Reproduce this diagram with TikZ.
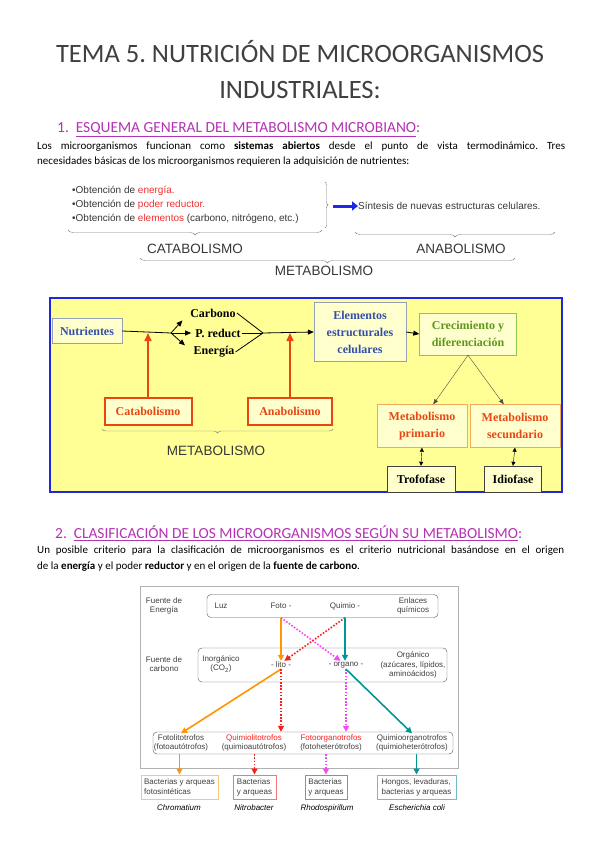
\documentclass[tikz,border=0pt]{standalone}
\usepackage{fontspec}
\setmainfont{Carlito}
\newfontfamily\arialfont{Liberation Sans}
\newfontfamily\romanfont{Liberation Serif}
\usetikzlibrary{arrows.meta, positioning, decorations.pathreplacing, calc}
\frenchspacing

\newcommand{\setsize}[2]{\fontsize{#1}{#2}\selectfont}

\definecolor{heading}{RGB}{180,50,180}
\definecolor{listgray}{RGB}{55,55,55}
\definecolor{listred}{RGB}{240,50,50}
\definecolor{synblue}{RGB}{30,40,230}
\definecolor{panel}{RGB}{255,255,150}
\definecolor{panelblue}{RGB}{30,40,220}
\definecolor{boxfill}{RGB}{255,255,205}
\definecolor{boxgray}{RGB}{150,160,180}
\definecolor{nutblue}{RGB}{50,80,170}
\definecolor{catred}{RGB}{232,70,20}
\definecolor{growgreen}{RGB}{95,150,30}
\definecolor{growframe}{RGB}{140,200,80}
\definecolor{metframe}{RGB}{240,170,90}
\definecolor{pathorange}{RGB}{255,150,0}
\definecolor{pathteal}{RGB}{0,150,150}
\definecolor{pathpink}{RGB}{250,70,250}
\definecolor{pathred}{RGB}{250,30,30}
\definecolor{kindorange}{RGB}{248,200,120}
\definecolor{kindred}{RGB}{240,120,120}
\definecolor{kindteal}{RGB}{110,190,195}

\begin{document}
\begin{tikzpicture}[x=1pt, y=-1pt,
  headline/.style={anchor=west, inner sep=0pt, text=heading, font=\setsize{15.4}{18}},
  bodyline/.style={anchor=west, inner sep=0pt, text=black, font=\setsize{11}{13}},
  listline/.style={anchor=west, inner sep=0pt, text=listgray, font=\arialfont\setsize{10}{12}},
  capword/.style={inner sep=0pt, text=listgray, font=\arialfont\setsize{13.5}{15}},
  gbrace/.style={draw=gray, decorate, decoration={brace, amplitude=5pt}},
  tnrbox/.style={draw, fill=boxfill, align=center, inner sep=1pt, font=\romanfont\bfseries\setsize{12}{17}},
  tnrlabel/.style={inner sep=1pt, font=\romanfont\bfseries\setsize{12}{14}},
  darrow/.style={-{Triangle[length=6pt,width=5pt]}, thick},
  redarrow/.style={-{Triangle[length=8pt,width=7pt]}, draw=catred, line width=1.6pt},
  rbox/.style={draw=gray!70!black, rounded corners=4pt, inner sep=0pt},
  smalltxt/.style={inner sep=1pt, align=center, text=darkgray, font=\arialfont\setsize{8}{9.5}},
  kindbox/.style={draw, line width=1pt, align=left, inner sep=2pt, text=darkgray, font=\arialfont\setsize{8}{10}},
  kindname/.style={inner sep=1pt, font=\arialfont\itshape\setsize{8}{9}},
  solidpath/.style={line width=1.6pt, -{Triangle[length=6pt,width=6pt]}},
  dotpath/.style={line width=1.6pt, dash pattern=on 1.6pt off 1.6pt, -{Triangle[length=6pt,width=6pt]}}]

\fill[white] (0,0) rectangle (599,848);
\useasboundingbox (0,0) rectangle (599,848);

% Title
\node[align=center, text=black!75, font=\setsize{26.5}{36}] (title) at (300,70)
  {TEMA 5. NUTRICIÓN DE MICROORGANISMOS\\INDUSTRIALES:};

% Section 1
\node[headline] (head1) at (57,130) {1.\ \ \underline{ESQUEMA GENERAL DEL METABOLISMO MICROBIANO}:};
\node[bodyline] (body1a) at (37,147) {\makebox[528pt][s]{Los microorganismos funcionan como \textbf{sistemas abiertos} desde el punto de vista termodinámico. Tres}};
\node[bodyline] (body1b) at (37,162) {necesidades básicas de los microorganismos requieren la adquisición de nutrientes:};

% Needs and synthesis
\node[listline] (need1) at (72,191) {•Obtención de \textcolor{listred}{energía.}};
\node[listline] (need2) at (72,205) {•Obtención de \textcolor{listred}{poder reductor.}};
\node[listline] (need3) at (72,219) {•Obtención de \textcolor{listred}{elementos} (carbono, nitrógeno, etc.)};
\draw[gbrace, decoration={amplitude=3pt}] (325,182) -- (325,228);
\coordinate (needtip) at (333,206);
\node[listline] (synth) at (358,206) {Síntesis de nuevas estructuras celulares.};
\draw[synblue, line width=3pt, -{Triangle[length=6pt,width=9pt]}] (needtip) -- (synth.west);

\draw[gbrace] (322,230) -- (68,230);
\draw[gbrace] (555,232) -- (355,232);
\node[capword] (catword) at (195,249) {CATABOLISMO};
\node[capword] (anaword) at (461,249) {ANABOLISMO};
\draw[gbrace] (515,258) -- (140,258);
\node[capword] (metword) at (324,271) {METABOLISMO};

% Metabolism panel
\draw[panelblue, line width=2.5pt, fill=panel] (50,298) rectangle (562,492);
\node[tnrbox, draw=boxgray, text=nutblue, minimum width=70, minimum height=25] (nutri) at (87,331) {Nutrientes};
\coordinate (split) at (171,333);
\node[tnrlabel] (carb) at (213,313) {Carbono};
\node[tnrlabel] (pred) at (218,333) {P. reduct};
\node[tnrlabel] (ener) at (214,352) {Energía};
\coordinate (merge) at (263,333);
\node[tnrbox, draw=boxgray, text=nutblue, minimum width=92, minimum height=59] (elem) at (360,332) {Elementos\\estructurales\\celulares};
\node[tnrbox, draw=growframe, text=growgreen, minimum width=97, minimum height=42] (grow) at (468,334) {Crecimiento y\\diferenciación};
\node[tnrbox, draw=metframe, text=catred, minimum width=90, minimum height=43] (prim) at (422,426) {Metabolismo\\primario};
\node[tnrbox, draw=metframe, text=catred, minimum width=90, minimum height=43] (sec) at (515,426) {Metabolismo\\secundario};
\node[tnrbox, draw=black!75, text=black, minimum width=68, minimum height=26] (trof) at (421,479) {Trofofase};
\node[tnrbox, draw=black!75, text=black, minimum width=57, minimum height=26] (idio) at (513,479) {Idiofase};
\node[tnrbox, draw=catred, line width=2pt, text=catred, minimum width=87, minimum height=27] (catab) at (148,411) {Catabolismo};
\node[tnrbox, draw=catred, line width=2pt, text=catred, minimum width=84, minimum height=27] (anab) at (290,411) {Anabolismo};

\draw[thick] (nutri.east) -- (split);
\draw[darrow, shorten >=10pt] (split) -- (carb.west);
\draw[darrow, shorten >=3pt] (split) -- (pred.west);
\draw[darrow, shorten >=10pt] (split) -- (ener.west);
\draw[thick] (carb.east) -- (merge);
\draw[thick] (pred.east) -- (merge);
\draw[thick] (ener.east) -- (merge);
\draw[darrow] (merge) -- (elem.west);
\draw[darrow] (elem.east) -- (grow.west);
\draw[redarrow] (catab.north) -- (catab.north |- split);
\draw[redarrow] (anab.north) -- (anab.north |- split);
\draw[black!70, -{Triangle[length=5pt,width=4pt]}] (grow.south) -- ($(prim.north)!0.25!(prim.north east)$);
\draw[black!70, -{Triangle[length=5pt,width=4pt]}] (grow.south) -- ($(sec.north)!0.25!(sec.north west)$);
\draw[{Triangle[length=4pt,width=4pt]}-{Triangle[length=4pt,width=4pt]}] (prim.south) -- (trof.north);
\draw[{Triangle[length=4pt,width=4pt]}-{Triangle[length=4pt,width=4pt]}] (sec.south) -- (idio.north);
\draw[gbrace, decoration={amplitude=4pt}] (333,429) -- (102,429);
\node[capword] (panelword) at (216,451) {METABOLISMO};

% Section 2
\node[headline] (head2) at (55,533) {2.\ \ \underline{CLASIFICACIÓN DE LOS MICROORGANISMOS SEGÚN SU METABOLISMO}:};
\node[bodyline] (body2a) at (37,551) {\makebox[527pt][s]{Un posible criterio para la clasificación de microorganismos es el criterio nutricional basándose en el origen}};
\node[bodyline] (body2b) at (37,567) {de la \textbf{energía} y el poder \textbf{reductor} y en el origen de la \textbf{fuente de carbono}.};

% Classification scheme
\draw[gray!60] (140,586) rectangle (458,768);
\node[smalltxt] (fenergia) at (164,606) {Fuente de\\Energía};
\node[smalltxt] (fcarbono) at (164,664) {Fuente de\\carbono};
\node[rbox, minimum width=231, minimum height=23] (energia) at (322.5,606) {};
\node[smalltxt] (luz) at (221,606) {Luz};
\node[smalltxt] (foto) at (281,606) {Foto -};
\node[smalltxt] (quimio) at (345,606) {Quimio -};
\node[smalltxt] (enlaces) at (413,606) {Enlaces\\químicos};
\node[rbox, minimum width=249, minimum height=34] (carbono) at (322.5,665) {};
\node[smalltxt] (inorg) at (221,664) {Inorgánico\\(CO\textsubscript{2})};
\node[smalltxt] (lito) at (281,665) {- lito -};
\node[smalltxt] (organo) at (346,665) {- organo -};
\node[smalltxt] (org) at (413,665) {Orgánico\\(azúcares, lípidos,\\aminoácidos)};
\node[rbox, minimum width=300, minimum height=22] (tipos) at (303,743) {};
\node[smalltxt] (fotolito) at (181,743) {Fotolitotrofos\\(fotoautótrofos)};
\node[smalltxt] (quimiolito) at (254,743) {\textcolor{pathred}{Quimiolitotrofos}\\(quimioautótrofos)};
\node[smalltxt] (fotoorg) at (331,743) {\textcolor{pathred}{Fotoorganotrofos}\\(fotoheterótrofos)};
\node[smalltxt] (quimioorg) at (412,743) {Quimioorganotrofos\\(quimioheterótrofos)};

\draw[solidpath, pathorange] (foto |- energia.south) -- (lito.north);
\draw[dotpath, pathpink] (foto |- energia.south) -- ($(organo.north)!0.3!(organo.north west)$);
\draw[dotpath, pathred] (quimio |- energia.south) -- ($(lito.north)!0.3!(lito.north east)$);
\draw[solidpath, pathteal] (quimio |- energia.south) -- (quimio |- organo.north);
\draw[solidpath, pathorange] (lito.south) -- (fotolito.north);
\draw[dotpath, pathred] (lito.south) -- (lito |- tipos.north);
\draw[dotpath, pathpink] (organo.south) -- (organo |- tipos.north);
\draw[solidpath, pathteal] (organo.south) -- (quimioorg.north);

% Examples
\node[kindbox, draw=kindorange, minimum width=77, minimum height=24] (bac1) at (179.5,787) {Bacterias y arqueas\\fotosintéticas};
\node[kindbox, draw=kindred, minimum width=43, minimum height=24] (bac2) at (254.5,787) {Bacterias\\y arqueas};
\node[kindbox, draw=pathpink, minimum width=42, minimum height=24] (bac3) at (326,787) {Bacterias\\y arqueas};
\node[kindbox, draw=kindteal, minimum width=79, minimum height=24] (bac4) at (416.5,787) {Hongos, levaduras,\\bacterias y arqueas};
\node[kindname] (chrom) at (179,808) {Chromatium};
\node[kindname] (nitro) at (254,808) {Nitrobacter};
\node[kindname] (rhodo) at (327,808) {Rhodospirillum};
\node[kindname] (esche) at (417,808) {Escherichia coli};

\draw[solidpath, pathorange] (bac1 |- tipos.south) -- (bac1.north);
\draw[dotpath, pathred] (bac2 |- tipos.south) -- (bac2.north);
\draw[dotpath, pathpink] (bac3 |- tipos.south) -- (bac3.north);
\draw[solidpath, pathteal] (bac4 |- tipos.south) -- (bac4.north);
\end{tikzpicture}
\end{document}
